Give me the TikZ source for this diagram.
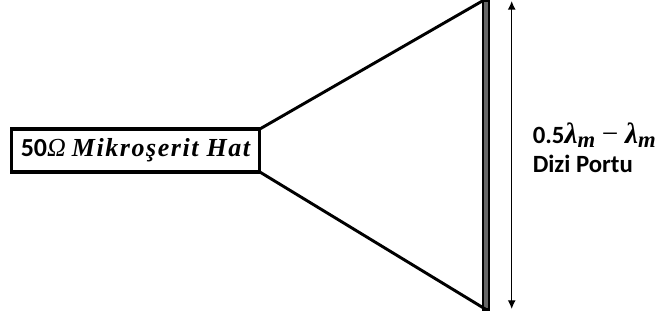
\documentclass[tikz,border=0pt]{standalone}
\usepackage{fontspec}
\setmainfont{Carlito}
\newfontfamily\mathlike[LetterSpace=6]{Liberation Serif}
\newfontfamily\mathplain{Liberation Serif}
\usetikzlibrary{arrows.meta}
\newcommand{\lamsub}{{\mathplain\fontsize{22pt}{22pt}\selectfont\bfseries\itshape λ}\raisebox{-3pt}{\mathplain\fontsize{17pt}{17pt}\selectfont\bfseries\itshape m}}
\tikzset{
  x=0.75pt,y=-0.75pt,
  hatbox/.style={draw=black,line width=2.4pt,fill=white,minimum width=186.5pt,minimum height=32.25pt,inner sep=0pt,outer sep=0pt,font=\fontsize{19.5pt}{21pt}\selectfont\bfseries},
  portbar/.style={draw=black,line width=1.8pt,fill=black!60,minimum width=4.2pt,minimum height=231.75pt,inner sep=0pt,outer sep=0pt},
  feed/.style={line width=2.2pt,line cap=round},
  dim/.style={line width=1pt,{Latex[length=6.5pt,width=6pt]}-{Latex[length=6.5pt,width=6pt]}},
  lbl/.style={font=\fontsize{18.6pt}{21pt}\selectfont\bfseries,inner sep=0pt,anchor=base west}
}
\begin{document}
\begin{tikzpicture}
\useasboundingbox (0,0) rectangle (657,320);
\node[hatbox] (hat) at (135.5,150.5) {50{\mathlike\itshape\mdseries Ω} {\mathlike\itshape Mikroşerit Hat}};
\node[portbar] (bar) at (486,155) {};
\draw[feed] (hat.north east) -- (bar.north west);
\draw[feed] (hat.south east) -- (bar.south);
\coordinate (dimtop) at (511.7,1);
\coordinate (dimbot) at (511.7,309);
\draw[dim] (dimtop) -- (dimbot);
\node[lbl] (size) at (532.5,144) {0.5\lamsub\hspace{5pt}{\mathplain\mdseries\fontsize{22pt}{22pt}\selectfont −}\hspace{5pt}\lamsub};
\node[lbl] (port) at (532.5,173) {Dizi Portu};
\end{tikzpicture}
\end{document}
